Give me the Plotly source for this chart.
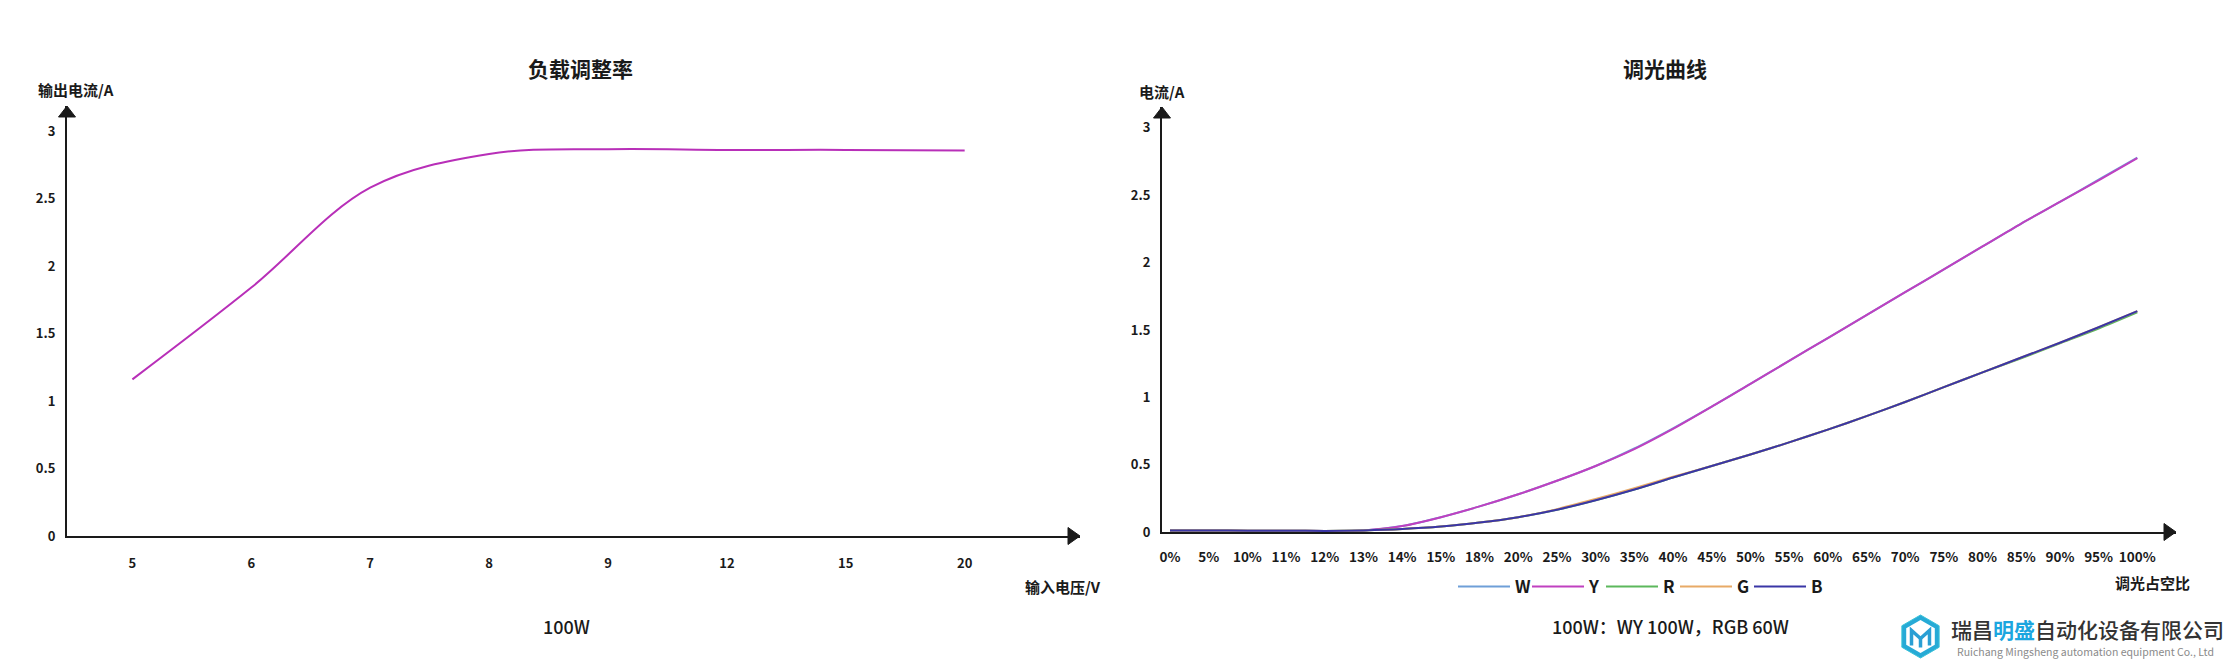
import math
import plotly.graph_objects as go

W, H = 2229, 660
FONT = "Noto Sans CJK SC"
INK = "#1a1a1a"

# ---------------- data ----------------
# left chart: 负载调整率
load_voltage = ["5", "6", "7", "8", "9", "12", "15", "20"]
load_current = [1.16, 1.84, 2.58, 2.83, 2.865, 2.86, 2.86, 2.855]

y_tick_vals = [0, 0.5, 1, 1.5, 2, 2.5, 3]
y_tick_text = ["0", "0.5", "1", "1.5", "2", "2.5", "3"]

# right chart: 调光曲线
duty = ["0%", "5%", "10%", "11%", "12%", "13%", "14%", "15%", "18%", "20%",
        "25%", "30%", "35%", "40%", "45%", "50%", "55%", "60%", "65%", "70%",
        "75%", "80%", "85%", "90%", "95%", "100%"]
w_current = [0.012, 0.012, 0.010, 0.010, 0.008, 0.012, 0.045, 0.11, 0.19, 0.28,
             0.38, 0.49, 0.62, 0.77, 0.93, 1.10, 1.27, 1.44, 1.61, 1.78,
             1.95, 2.12, 2.29, 2.45, 2.615, 2.78]
y_current = [0.012, 0.012, 0.010, 0.010, 0.008, 0.012, 0.044, 0.11, 0.19, 0.28,
             0.38, 0.49, 0.615, 0.765, 0.93, 1.10, 1.27, 1.44, 1.61, 1.78,
             1.95, 2.12, 2.29, 2.45, 2.61, 2.775]
r_current = [0.012, 0.012, 0.010, 0.010, 0.008, 0.012, 0.022, 0.04, 0.07, 0.11,
             0.165, 0.235, 0.315, 0.405, 0.49, 0.575, 0.665, 0.76, 0.86, 0.965,
             1.075, 1.185, 1.29, 1.40, 1.51, 1.63]
g_current = [0.012, 0.012, 0.010, 0.010, 0.008, 0.012, 0.022, 0.04, 0.07, 0.11,
             0.17, 0.245, 0.325, 0.41, 0.49, 0.575, 0.665, 0.76, 0.86, 0.965,
             1.075, 1.185, 1.295, 1.405, 1.52, 1.64]
b_current = [0.012, 0.012, 0.010, 0.010, 0.008, 0.012, 0.022, 0.04, 0.07, 0.11,
             0.165, 0.235, 0.315, 0.405, 0.49, 0.575, 0.665, 0.76, 0.86, 0.965,
             1.075, 1.185, 1.295, 1.405, 1.52, 1.64]

series_names = ["W", "Y", "R", "G", "B"]
series_values = [w_current, y_current, r_current, g_current, b_current]
series_colors = ["#6f9fd8", "#c040c0", "#5cb85c", "#e8aa66", "#3a36a6"]


def px(x):
    return x / W


def py(y):
    return 1 - y / H


def path(points, close=True):
    s = "M" + " L".join(f"{px(x):.5f},{py(y):.5f}" for x, y in points)
    return s + (" Z" if close else "")


fig = go.Figure()

fig.add_trace(go.Scatter(
    x=load_voltage, y=load_current, mode="lines",
    line=dict(color="#b82fb8", width=2, shape="spline", smoothing=1.0),
    xaxis="x", yaxis="y", showlegend=False, hoverinfo="skip"))

for name, vals, col in zip(series_names, series_values, series_colors):
    fig.add_trace(go.Scatter(
        x=duty, y=vals, mode="lines", name=name,
        line=dict(color=col, width=2, shape="spline", smoothing=0.8),
        xaxis="x2", yaxis="y2", showlegend=True, hoverinfo="skip"))

TICKFONT = dict(family=FONT, size=13, color=INK, weight=600)
axis_common = dict(showgrid=False, zeroline=False, showline=True,
                   linecolor=INK, linewidth=2, ticks="", automargin=False)

fig.update_layout(
    width=W, height=H,
    margin=dict(l=0, r=0, t=0, b=0, autoexpand=False),
    paper_bgcolor="white", plot_bgcolor="white",
    font=dict(family=FONT, color=INK),
    xaxis=dict(domain=[px(67), px(1080)], anchor="y", type="category",
               range=[-0.55, 7.97], ticklabelstandoff=14, tickfont=TICKFONT,
               **axis_common),
    yaxis=dict(domain=[py(536), py(106)], anchor="x", range=[0, 3.185],
               tickvals=y_tick_vals, ticktext=y_tick_text,
               ticklabelstandoff=7, tickfont=TICKFONT, **axis_common),
    xaxis2=dict(domain=[px(1162), px(2176)], anchor="y2", type="category",
                range=[-0.207, 26.0], ticklabelstandoff=12,
                tickfont={**TICKFONT, "size": 13.5}, **axis_common),
    yaxis2=dict(domain=[py(532), py(107)], anchor="x2", range=[0, 3.155],
                tickvals=y_tick_vals, ticktext=y_tick_text,
                ticklabelstandoff=7, tickfont=TICKFONT, **axis_common),
    legend=dict(orientation="h", x=px(1453), y=py(587), xanchor="left",
                yanchor="middle", font=dict(family=FONT, size=17, color=INK,
                                            weight=600),
                bgcolor="rgba(0,0,0,0)", itemwidth=52, tracegroupgap=0,
                entrywidth=7, entrywidthmode="pixels"),
)

# axis arrows
shapes = []
arrow_tris = [
    [(67, 106), (58.5, 117), (75.5, 117)],
    [(1080, 536), (1068, 527.5), (1068, 544.5)],
    [(1162, 107), (1153.5, 118), (1170.5, 118)],
    [(2176, 532), (2164, 523.5), (2164, 540.5)],
]
for tri in arrow_tris:
    shapes.append(dict(type="path", xref="paper", yref="paper", path=path(tri),
                       fillcolor=INK, line=dict(color=INK, width=1)))

# logo icon (hexagon)
cx, cy = 1920.5, 636.5


def hexagon(r):
    pts = []
    for k in range(6):
        a = math.radians(90 + 60 * k)
        pts.append((cx + r * math.cos(a), cy - r * math.sin(a)))
    return pts


shapes.append(dict(type="path", xref="paper", yref="paper", path=path(hexagon(21.5)),
                   fillcolor="#26aad6", line=dict(color="#39c2d8", width=1)))
shapes.append(dict(type="path", xref="paper", yref="paper", path=path(hexagon(16.5)),
                   fillcolor="white", line=dict(color="white", width=0)))
shapes.append(dict(type="path", xref="paper", yref="paper",
                   path=path([(cx - 9, cy + 9), (cx - 9, cy - 6), (cx, cy + 2),
                              (cx + 9, cy - 6), (cx + 9, cy + 9)], close=False),
                   line=dict(color="#2a9fd4", width=3.5)))
shapes.append(dict(type="path", xref="paper", yref="paper",
                   path=path([(cx, cy + 2), (cx, cy + 11)], close=False),
                   line=dict(color="#2a9fd4", width=3.5)))
fig.update_layout(shapes=shapes)


def ann(text, x, y, size, bold=False, color=INK, xanchor="center", weight=None):
    f = dict(family=FONT, size=size, color=color)
    if weight:
        f["weight"] = weight
    fig.add_annotation(text=f"<b>{text}</b>" if bold else text,
                       x=px(x), y=py(y), xref="paper", yref="paper",
                       showarrow=False, xanchor=xanchor, yanchor="middle",
                       font=f)


ann("负载调整率", 580, 68, 21, bold=True)
ann("调光曲线", 1665, 68, 21, bold=True)
ann("输出电流/A", 76, 89, 15, bold=True)
ann("电流/A", 1162, 91, 15, bold=True)
ann("输入电压/V", 1063, 586, 15, bold=True)
ann("调光占空比", 2152, 582, 15, bold=True)
ann("100W", 566, 626, 18, weight=500)
ann("100W：WY 100W，RGB 60W", 1670, 626, 18, weight=500)
ann('瑞昌<span style="color:#1ca6df"><b>明盛</b></span>自动化设备有限公司',
    1949, 629, 21, color="#333333", xanchor="left", weight=500)
ann("Ruichang Mingsheng automation equipment Co., Ltd", 2085, 651, 10.5,
    color="#8a8a8a")

fig.write_html(
    "out.html",
    config={"displayModeBar": False},
    post_script="document.body.style.margin='0';document.body.style.overflow='hidden';",
)
